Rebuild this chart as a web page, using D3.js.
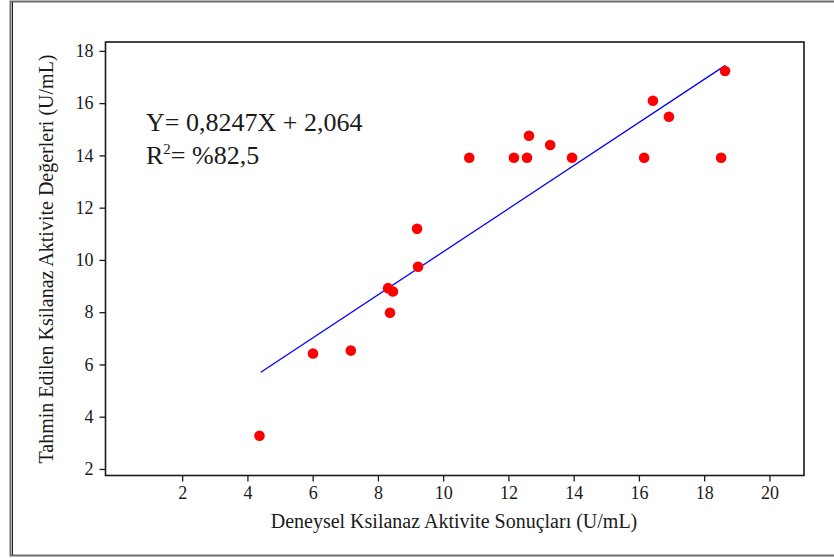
<!DOCTYPE html>
<html>
<head>
<meta charset="utf-8">
<script src="https://cdnjs.cloudflare.com/ajax/libs/d3/7.8.5/d3.min.js"></script>
<style>
  body { margin:0; background:#fff; }
  svg text { font-family: "Liberation Serif", "Times New Roman", serif; fill:#1a1a1a; }
</style>
</head>
<body>
<div id="chart"></div>
<script>
// measured values (x = deneysel, y = tahmin)
let xVals = [4.37, 6.01, 7.17, 8.31, 8.46, 8.37, 9.20, 9.23, 10.80, 12.17, 12.57, 12.63, 13.28, 13.95, 16.16, 16.43, 16.92, 18.52, 18.64],
    yVals = [3.27, 6.42, 6.53, 8.92, 8.79, 7.98, 11.19, 9.74, 13.91, 13.91, 13.91, 14.75, 14.40, 13.91, 13.91, 16.09, 15.48, 13.91, 17.23],
    xTicks = [2, 4, 6, 8, 10, 12, 14, 16, 18, 20],
    yTicks = [2, 4, 6, 8, 10, 12, 14, 16, 18],
    fitRange = [4.41, 18.65],
    slope = 0.8247,
    intercept = 2.064;

let W = 834, H = 558,
    margin = {top:42, right:30, bottom:82.5, left:105.5},
    width = W - margin.left - margin.right,
    height = H - margin.top - margin.bottom;

let svg = d3.select('#chart').append('svg')
            .attr('width', W)
            .attr('height', H)

// outer frame (cut off at the right)
svg.append('path')
   .attr('d', 'M834,1.5 H10.5 V555.5 H834')
   .attr('fill', 'none')
   .attr('stroke', '#6e6e6e')
   .attr('stroke-width', 2)
svg.append('line')
   .attr('x1', 12.5).attr('x2', 12.5).attr('y1', 2).attr('y2', 555)
   .attr('stroke', '#222').attr('stroke-width', 1)

let xScale = d3.scaleLinear()
               .domain([-0.35, 21.06])
               .range([0, width]),
    yScale = d3.scaleLinear()
               .domain([1.75, 18.34])
               .range([height, 0]);

let g = svg.append('g')
           .attr('transform', 'translate(' + margin.left + ',' + margin.top + ')')

let xAxis = g.append('g')
             .attr('transform', 'translate(0,' + height + ')')
             .call(d3.axisBottom(xScale).tickValues(xTicks).tickSize(6).tickSizeOuter(0).tickPadding(5))
let yAxis = g.append('g')
             .call(d3.axisLeft(yScale).tickValues(yTicks).tickSize(6).tickSizeOuter(0).tickPadding(6))

g.selectAll('.domain').remove()
g.selectAll('.tick line').attr('stroke', '#1a1a1a').attr('stroke-width', 1.3)
g.selectAll('.tick text')
 .attr('font-family', null)
 .style('font-family', '"Liberation Serif", serif')
 .style('font-size', '18px')
 .attr('fill', '#1a1a1a')

// plot frame
g.append('rect')
 .attr('width', width)
 .attr('height', height)
 .attr('fill', 'none')
 .attr('stroke', '#1a1a1a')
 .attr('stroke-width', 1.6)

// regression line
g.append('line')
 .attr('x1', xScale(fitRange[0]))
 .attr('y1', yScale(slope * fitRange[0] + intercept))
 .attr('x2', xScale(fitRange[1]))
 .attr('y2', yScale(slope * fitRange[1] + intercept))
 .attr('stroke', '#0000ff')
 .attr('stroke-width', 1.3)

g.selectAll('circle').data(xVals)
 .enter().append('circle')
 .attr('cx', function(d){ return xScale(d) })
 .attr('cy', function(d, i){ return yScale(yVals[i]) })
 .attr('r', 5.3)
 .attr('fill', '#ff0000')

// equation
svg.append('text')
   .attr('x', 146).attr('y', 131)
   .style('font-size', '26px')
   .text('Y= 0,8247X + 2,064')
let r2 = svg.append('text')
   .attr('x', 146).attr('y', 164)
   .style('font-size', '26px')
r2.append('tspan').text('R')
r2.append('tspan').attr('dy', -10).style('font-size', '15px').text('2')
r2.append('tspan').attr('dy', 10).text('= %82,5')

// axis titles
svg.append('text')
   .attr('x', 454).attr('y', 528)
   .attr('text-anchor', 'middle')
   .style('font-size', '20px')
   .text('Deneysel Ksilanaz Aktivite Sonuçları (U/mL)')
svg.append('text')
   .attr('transform', 'translate(53,259) rotate(-90)')
   .attr('text-anchor', 'middle')
   .style('font-size', '20px')
   .text('Tahmin Edilen Ksilanaz Aktivite Değerleri (U/mL)')
</script>
</body>
</html>
